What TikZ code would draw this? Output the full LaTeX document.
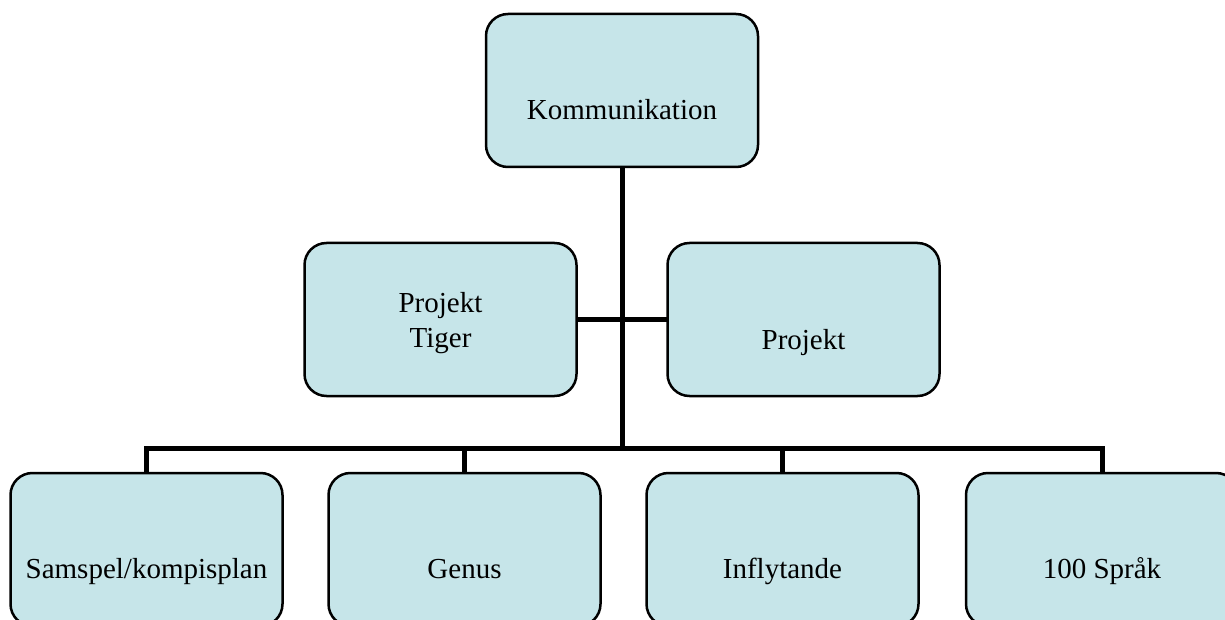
\documentclass[tikz,border=0pt]{standalone}
\usepackage{fontspec}
\setmainfont{Liberation Serif}
\definecolor{boxfill}{HTML}{C6E5E9}
\begin{document}
\begin{tikzpicture}[x=1pt,y=-1pt,
  orgbox/.style={line width=2.5pt,inner sep=0pt,outer sep=0pt,
    minimum width=272pt,minimum height=153pt},
  boxdraw/.style={draw=black,line width=2.5pt,fill=boxfill,rounded corners=22pt},
  txt/.style={anchor=base,inner sep=0pt,font=\fontsize{29}{35}\selectfont,align=center},
  conn/.style={line width=5pt,line cap=rect,line join=miter}]
\useasboundingbox (0,0) rectangle (1225,620);
\clip (0,0) rectangle (1225,620);
\node[orgbox] (top) at (622,90.5) {};
\node[orgbox] (pt) at (440.5,319.5) {};
\node[orgbox] (pr) at (803.5,319.5) {};
\node[orgbox] (b1) at (146.5,549.5) {};
\node[orgbox] (b2) at (464.5,549.5) {};
\node[orgbox] (b3) at (782.5,549.5) {};
\node[orgbox] (b4) at (1102,549.5) {};
\coordinate (bar) at (622,448);
\draw[conn] (top.south) -- (bar);
\draw[conn] (pt.east) -- (pr.west);
\draw[conn] (b1.north) -- ++(0,-25) -| (b4.north);
\draw[conn] (b2.north) -- ++(0,-25);
\draw[conn] (b3.north) -- ++(0,-25);
\foreach \n in {top,pt,pr,b1,b2,b3,b4}{
  \draw[boxdraw] (\n.south west) rectangle (\n.north east);
}
\node[txt] (ttop) at (622,120) {Kommunikation};
\node[txt] (tpt) at (440.5,347) {Projekt\\Tiger};
\node[txt] (tpr) at (803.5,349) {Projekt};
\node[txt] (tb1) at (146.5,578) {Samspel/kompisplan};
\node[txt] (tb2) at (464.5,578) {Genus};
\node[txt] (tb3) at (782.5,578) {Inflytande};
\node[txt] (tb4) at (1102,578) {100 Språk};
\end{tikzpicture}
\end{document}
